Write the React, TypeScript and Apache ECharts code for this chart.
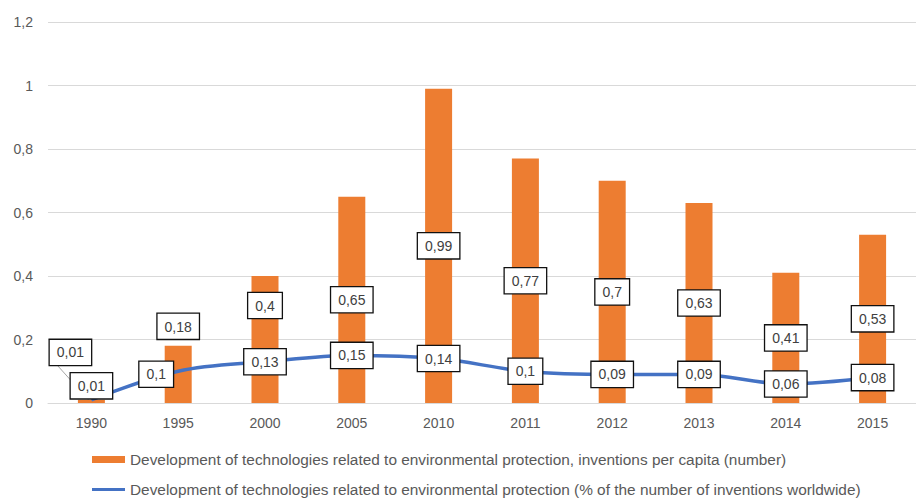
import React, { useEffect, useRef } from "react";
import * as echarts from "echarts";

const years = ["1990", "1995", "2000", "2005", "2010", "2011", "2012", "2013", "2014", "2015"];
const inventionsPerCapita = [0.01, 0.18, 0.4, 0.65, 0.99, 0.77, 0.7, 0.63, 0.41, 0.53];
const shareWorldwide = [0.01, 0.1, 0.13, 0.15, 0.14, 0.1, 0.09, 0.09, 0.06, 0.08];
const yTicks = { min: 0, max: 1.2, interval: 0.2 };

const barName =
  "Development of technologies related to environmental protection, inventions per capita (number)";
const lineName =
  "Development of technologies related to environmental protection (% of the number of inventions worldwide)";

const FONT = "'Liberation Sans', Arial, sans-serif";
const comma = (v: number) => String(v).replace(".", ",");

// The first bar's label is lifted off the tiny bar and joined to it by a leader line.
const FIRST_LABEL_SHIFT = { dx: -21, dy: -49 };
const LABEL_BOX_HEIGHT = 26;

const boxLabel = {
  show: true,
  fontFamily: FONT,
  fontSize: 14,
  color: "#404040",
  backgroundColor: "#ffffff",
  borderColor: "#111111",
  borderWidth: 1.3,
  padding: [6, 7, 5, 7],
  formatter: (p: any) => comma(p.value),
};

export default function App() {
  const ref = useRef<HTMLDivElement>(null);

  useEffect(() => {
    if (!ref.current) return;
    const chart = echarts.init(ref.current, null, { renderer: "svg" });

    const barData = inventionsPerCapita.map((v, i) =>
      i === 1 ? { value: v, label: { position: "top", distance: 7 } } : v
    );

    const lineData = shareWorldwide.map((v, i) => {
      if (i === 0) return { value: v, label: { offset: [0, -14] } };
      if (i === 1) return { value: v, label: { offset: [-22, 3] } };
      return v;
    });

    chart.setOption({
      animation: false,
      backgroundColor: "#ffffff",
      textStyle: { fontFamily: FONT },
      grid: { left: 48, right: -8, top: 22, bottom: 96 },
      legend: {
        orient: "vertical",
        left: 92,
        top: 452,
        height: 60,
        padding: 0,
        itemGap: 15,
        itemWidth: 33,
        itemHeight: 7,
        textStyle: { fontFamily: FONT, fontSize: 15.4, color: "#595959", lineHeight: 14 },
        data: [
          { name: barName, icon: "rect" },
          { name: lineName, icon: "path://M0,0L34,0L34,3L0,3Z" },
        ],
      },
      xAxis: {
        type: "category",
        data: years,
        boundaryGap: true,
        axisLine: { show: true, lineStyle: { color: "#d9d9d9", width: 1 } },
        axisTick: { show: false },
        axisLabel: { color: "#595959", fontSize: 14, margin: 13, fontFamily: FONT },
      },
      yAxis: {
        type: "value",
        min: yTicks.min,
        max: yTicks.max,
        interval: yTicks.interval,
        axisLine: { show: false },
        axisTick: { show: false },
        splitLine: { lineStyle: { color: "#d9d9d9", width: 1 } },
        axisLabel: {
          color: "#595959",
          fontSize: 14,
          margin: 15,
          fontFamily: FONT,
          formatter: (v: number) => comma(Math.round(v * 10) / 10),
        },
      },
      series: [
        {
          name: barName,
          type: "bar",
          data: barData,
          barWidth: 27,
          itemStyle: { color: "#ED7D31" },
          label: { ...boxLabel, position: "inside" },
          labelLayout: (params: any) => {
            if (params.dataIndex === 0) return FIRST_LABEL_SHIFT;
            if (params.dataIndex === 2) return { dy: -34 };
            return {};
          },
          z: 2,
        },
        {
          // leader line from the first bar to its shifted label
          type: "custom",
          silent: true,
          data: [[0, inventionsPerCapita[0]]],
          renderItem: (params: any, api: any) => {
            const top = api.coord([api.value(0), api.value(1)]);
            const base = api.coord([api.value(0), 0]);
            const cx = top[0] + FIRST_LABEL_SHIFT.dx;
            const cy = (top[1] + base[1]) / 2 + FIRST_LABEL_SHIFT.dy;
            return {
              type: "line",
              shape: {
                x1: cx - 13,
                y1: cy + LABEL_BOX_HEIGHT / 2,
                x2: top[0] - 3,
                y2: top[1],
              },
              style: { stroke: "#a6a6a6", lineWidth: 1 },
              z2: 1,
            };
          },
          z: 1,
        },
        {
          name: lineName,
          type: "line",
          data: lineData,
          smooth: 0.35,
          symbol: "circle",
          symbolSize: 0.1,
          showSymbol: true,
          itemStyle: { color: "#4472C4" },
          lineStyle: { color: "#4472C4", width: 3.5 },
          label: { ...boxLabel, position: "inside" },
          z: 3,
        },
      ],
    });

    return () => chart.dispose();
  }, []);

  return (
    <div
      ref={ref}
      style={{ position: "fixed", left: 0, top: 0, width: 916, height: 499 }}
    />
  );
}
